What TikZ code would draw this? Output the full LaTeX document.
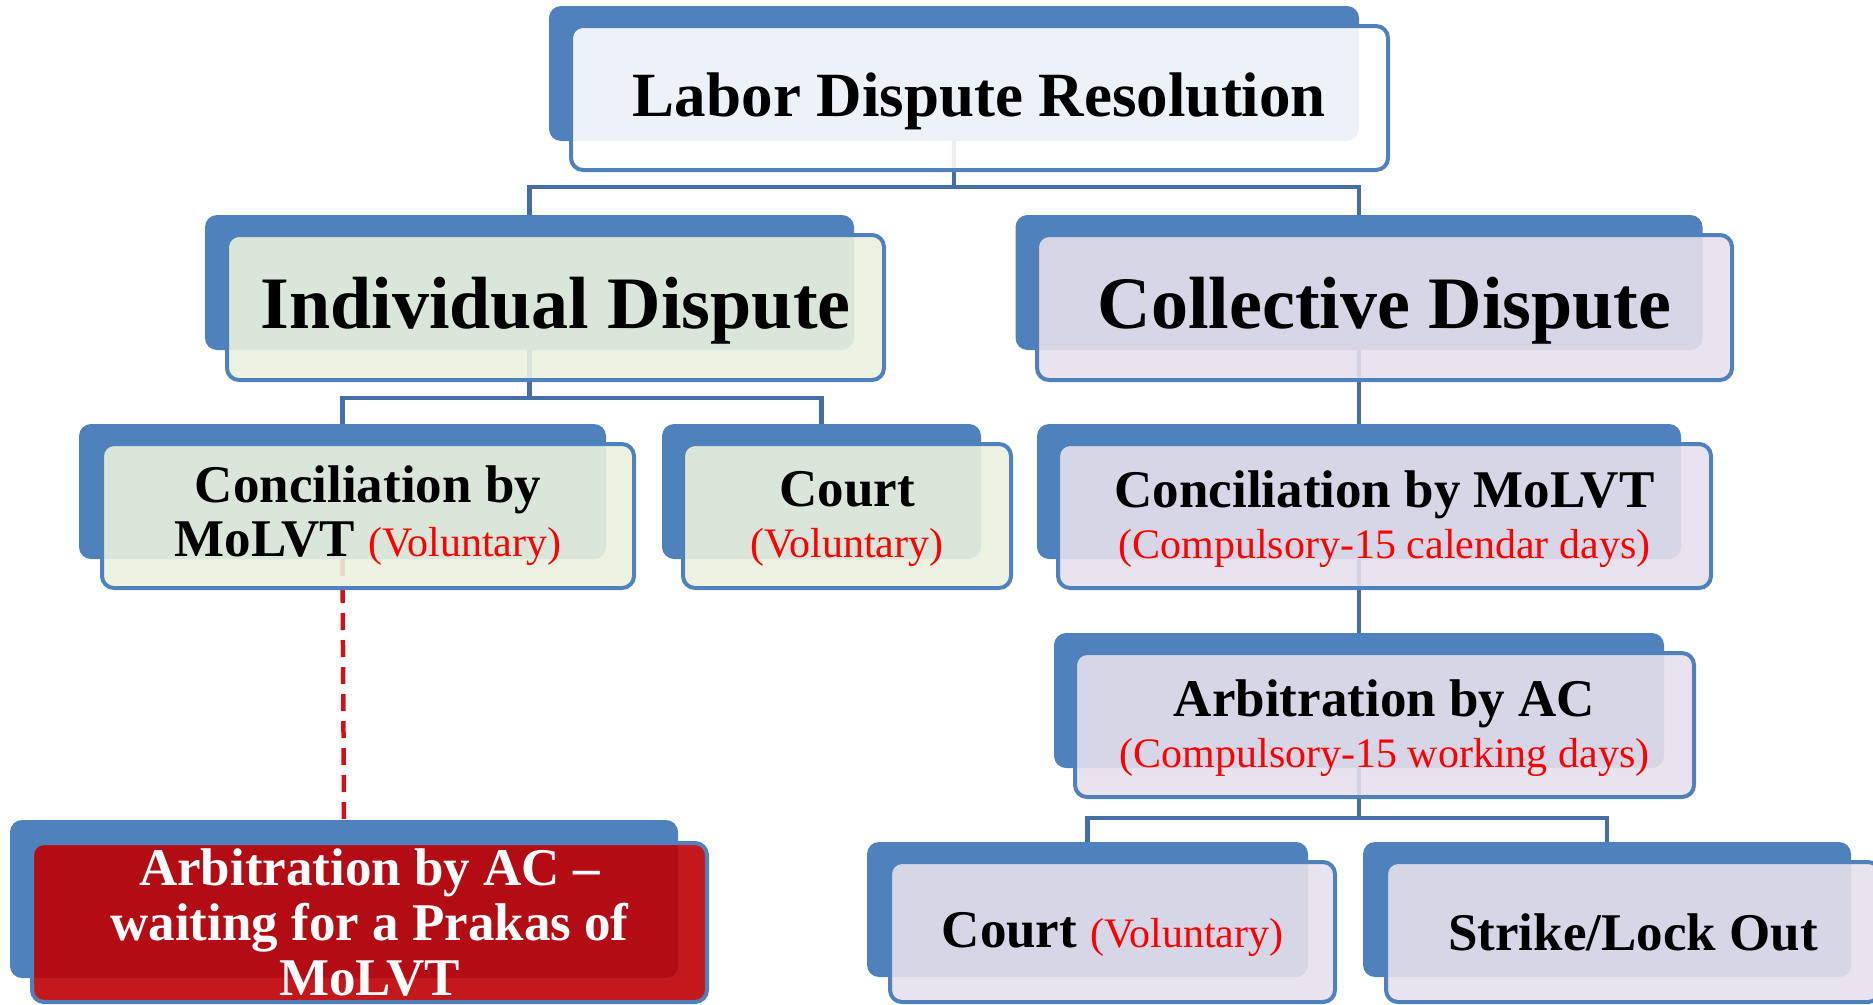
\documentclass[tikz,border=0pt]{standalone}
\usepackage{fontspec}
\setmainfont{Liberation Serif}
\usetikzlibrary{backgrounds}
\definecolor{bluebox}{RGB}{79,129,189}
\definecolor{conncol}{RGB}{68,110,165}
\definecolor{greenfill}{RGB}{235,241,222}
\definecolor{lavfill}{RGB}{229,224,236}
\definecolor{redfill}{RGB}{190,0,3}
\definecolor{redtxt}{RGB}{255,0,0}
\definecolor{dashred}{RGB}{205,20,30}
\tikzset{
  backbox/.style={fill=bluebox, rounded corners=12pt, inner sep=0pt, outer sep=0pt},
  frontbox/.style={draw=bluebox, line width=4pt, rounded corners=12pt, fill opacity=0.9, text opacity=1,
    inner sep=0pt, outer sep=0pt, align=center, font=\bfseries\fontsize{53}{51}\selectfont},
  conn/.style={draw=conncol, line width=4.5pt},
  dashconn/.style={draw=dashred, line width=4.5pt, dash pattern=on 17pt off 10pt},
}
\newcommand{\redpar}[1]{{\color{redtxt}\mdseries\fontsize{42}{51}\selectfont #1}}
\begin{document}
\begin{tikzpicture}[x=1pt,y=-1pt]
\useasboundingbox (0,0) rectangle (1873,1004);
\clip (0,0) rectangle (1873,1004);
% back boxes
\node[backbox, minimum width=810pt, minimum height=135pt] (topb) at (954,73.5) {};
\node[backbox, minimum width=649pt, minimum height=135pt] (indb) at (529.5,282.5) {};
\node[backbox, minimum width=687pt, minimum height=135pt] (colb) at (1359,282.5) {};
\node[backbox, minimum width=527pt, minimum height=135pt] (concLb) at (342.5,491.5) {};
\node[backbox, minimum width=319pt, minimum height=135pt] (courtMb) at (821.5,491.5) {};
\node[backbox, minimum width=644pt, minimum height=135pt] (concRb) at (1359,491.5) {};
\node[backbox, minimum width=610pt, minimum height=135pt] (arbRb) at (1359,700.5) {};
\node[backbox, minimum width=441pt, minimum height=135pt] (courtBb) at (1087.5,909.5) {};
\node[backbox, minimum width=488pt, minimum height=135pt] (strikeb) at (1607,909.5) {};
\node[backbox, minimum width=668pt, minimum height=158pt] (redb) at (344,899) {};
% front boxes
\node[frontbox, fill=white, minimum width=817pt, minimum height=144pt, text depth=6.5pt,
  font=\bfseries\fontsize{63}{70}\selectfont] (top) at (979.5,98) {Labor Dispute Resolution};
\node[frontbox, fill=greenfill, minimum width=657pt, minimum height=145pt, text depth=9pt,
  font=\bfseries\fontsize{74}{80}\selectfont] (ind) at (555.5,307.5) {Individual Dispute};
\node[frontbox, fill=lavfill, minimum width=695pt, minimum height=145pt, text depth=9pt,
  font=\bfseries\fontsize{74}{80}\selectfont] (col) at (1384.5,307.5) {Collective Dispute};
\node[frontbox, fill=greenfill, minimum width=532pt, minimum height=144pt,
  font=\bfseries\fontsize{53}{54}\selectfont] (concL) at (368,516) {Conciliation by\\MoLVT \redpar{(Voluntary)}};
\node[frontbox, fill=greenfill, minimum width=328pt, minimum height=144pt, text depth=2.5pt] (courtM) at (847,516) {Court\\\redpar{(Voluntary)}};
\node[frontbox, fill=lavfill, minimum width=653pt, minimum height=144pt, text depth=2.5pt] (concR) at (1384.5,516) {Conciliation by MoLVT\\\redpar{(Compulsory-15 calendar days)}};
\node[frontbox, fill=lavfill, minimum width=619pt, minimum height=144pt, text depth=2.5pt] (arbR) at (1384.5,725) {Arbitration by AC\\\redpar{(Compulsory-15 working days)}};
\node[frontbox, fill=lavfill, minimum width=445pt, minimum height=140pt, text depth=4.5pt] (courtB) at (1112.5,932) {Court \redpar{(Voluntary)}};
\node[frontbox, fill=lavfill, minimum width=494pt, minimum height=140pt] (strike) at (1633,932) {Strike/Lock Out};
\node[frontbox, fill=redfill, text=white, minimum width=675pt, minimum height=159pt,
  font=\bfseries\fontsize{53}{55}\selectfont] (red) at (369.5,922.5) {Arbitration by AC --\\waiting for a Prakas of\\MoLVT};
% connectors
\begin{scope}[on background layer]
\coordinate (bus1) at (954,187);
\coordinate (bus2) at (529.5,398);
\coordinate (bus3) at (1359,818);
\draw[conn] (topb.south) -- (bus1) -| (indb.north);
\draw[conn] (bus1) -| (colb.north);
\draw[conn] (indb.south) -- (bus2) -| (concLb.north);
\draw[conn] (bus2) -| (courtMb.north);
\draw[conn] (colb.south) -- (concRb.north);
\draw[conn] (concRb.south) -- (arbRb.north);
\draw[conn] (arbRb.south) -- (bus3) -| (courtBb.north);
\draw[conn] (bus3) -| (strikeb.north);
\draw[dashconn] (concLb.south) -- (redb.north);
\end{scope}
\end{tikzpicture}
\end{document}
